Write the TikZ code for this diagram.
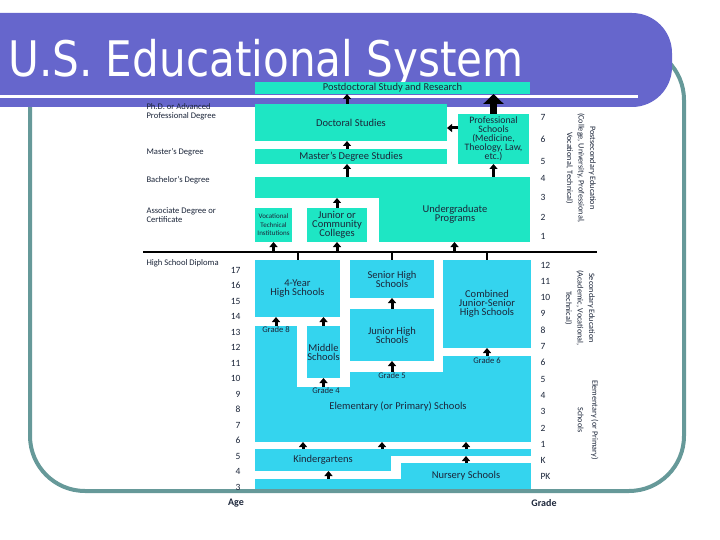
\documentclass[tikz,border=0pt]{standalone}
\usepackage{fontspec}
\setmainfont{Carlito}
\newfontfamily\titlefont[FakeStretch=0.86]{DejaVu Sans}
\usetikzlibrary{arrows.meta}

\definecolor{titlebar}{RGB}{102,102,204}
\definecolor{framegray}{RGB}{102,153,153}
\definecolor{tealfill}{RGB}{30,230,196}
\definecolor{bluefill}{RGB}{52,212,238}
\definecolor{inktext}{RGB}{28,38,58}

\newcommand{\tightlines}{\lineskiplimit-20pt\relax}

\tikzset{
    box/.style = {rectangle, inner sep=0pt, outer sep=0pt, align=center, text=inktext, font={\fontsize{10.5}{9}\selectfont\tightlines}},
    tealbox/.style = {box, fill=tealfill},
    bluebox/.style = {box, fill=bluefill},
    uparrow/.style = {line width=3pt, -{Triangle[width=8pt,length=5pt]}},
    bigarrow/.style = {line width=6.5pt, -{Triangle[width=20pt,length=10pt]}},
    hsrule/.style = {line width=2pt, black},
    degree/.style = {anchor=west, align=left, text=inktext, font=\fontsize{8.6}{9}\selectfont},
    agenum/.style = {anchor=east, text=inktext, font=\fontsize{9.5}{10}\selectfont},
    gradenum/.style = {anchor=west, text=inktext, font=\fontsize{9.5}{10}\selectfont},
    gradetag/.style = {text=inktext, font=\fontsize{8.6}{9}\selectfont},
    stage/.style = {rotate=-90, align=center, text=inktext, font=\fontsize{8.2}{11.5}\selectfont},
    titletext/.style = {white, inner sep=0pt, font=\titlefont\fontsize{49}{50}\selectfont}
}

\begin{document}
\begin{tikzpicture}[x=1pt, y=-1pt]
\useasboundingbox (0,0) rectangle (720,540);

% Slide frame and title bar
\draw[framegray, line width=4pt, fill=white, rounded corners=55pt] (30,45) rectangle (684,491);
\fill[titlebar, rounded corners=40pt] (-60,13) rectangle (672,107);
\draw[white, line width=3pt] (0,96.5) -- (638,96.5);
\node[titletext, anchor=base west] (title) at (8,77) {U.S. Educational System};

% Degree labels
\node[degree] (phd) at (143,111.5) {Ph.D. or Advanced\\Professional Degree};
\node[degree] (master) at (143,152) {Master's Degree};
\node[degree] (bachelor) at (143,180) {Bachelor's Degree};
\node[degree] (associate) at (143,215) {Associate Degree or\\Certificate};
\node[degree] (diploma) at (143,263) {High School Diploma};

% Postsecondary boxes
\node[tealbox, minimum width=275, minimum height=12] (postdoc) at (392.5,88) {Postdoctoral Study and Research};
\node[tealbox, minimum width=192, minimum height=37] (doctoral) at (351,122.5) {Doctoral Studies};
\node[tealbox, minimum width=71, minimum height=50, font={\fontsize{9.8}{9}\selectfont\tightlines}] (profschool) at (493.5,139) {Professional\\Schools\\(Medicine,\\Theology, Law,\\etc.)};
\node[tealbox, minimum width=192, minimum height=15] (masters) at (351,156.5) {Master's Degree Studies};
\node[tealbox, minimum width=275, minimum height=21] (ugtop) at (392.5,187.5) {};
\node[tealbox, minimum width=151, minimum height=45] (ugmain) at (454.5,219.5) {};
\node[box] (ugtext) at (455,214) {Undergraduate\\Programs};
\node[tealbox, minimum width=37, minimum height=34, font={\fontsize{7}{8.5}\selectfont\tightlines}] (vocational) at (273.5,225) {Vocational\\Technical\\Institutions};
\node[tealbox, minimum width=60, minimum height=34] (community) at (337,225) {Junior or\\Community\\Colleges};

% Secondary boxes
\node[bluebox, minimum width=85, minimum height=57] (fouryear) at (297.5,288.5) {4-Year\\High Schools};
\node[bluebox, minimum width=84, minimum height=38] (seniorhigh) at (392,279) {Senior High\\Schools};
\node[bluebox, minimum width=88, minimum height=88] (combined) at (487,304) {Combined\\Junior-Senior\\High Schools};
\node[bluebox, minimum width=33, minimum height=52] (middle) at (323.5,352) {Middle\\Schools};
\node[bluebox, minimum width=84, minimum height=52] (juniorhigh) at (392,335) {Junior High\\Schools};

% Elementary and early childhood
\node[bluebox, minimum width=42, minimum height=62] (elemleft) at (276,357) {};
\node[bluebox, minimum width=93, minimum height=16] (elemcentre) at (396.5,380) {};
\node[bluebox, minimum width=88, minimum height=32] (elemright) at (487,372) {};
\node[bluebox, minimum width=276, minimum height=55] (elem) at (393,414.5) {};
\node[box] (elemtext) at (398,407) {Elementary (or Primary) Schools};
\node[bluebox, minimum width=136, minimum height=22] (kinder) at (323,460) {Kindergartens};
\node[bluebox, minimum width=141, minimum height=7] (kstrip) at (460.5,452.5) {};
\node[bluebox, minimum width=130, minimum height=26] (nursery) at (466,476) {Nursery Schools};
\node[bluebox, minimum width=147, minimum height=10] (nbase) at (328.5,484) {};

% Grade tags
\node[gradetag] (tag8) at (276,330) {Grade 8};
\node[gradetag] (tag4) at (326,391) {Grade 4};
\node[gradetag] (tag5) at (392,376) {Grade 5};
\node[gradetag] (tag6) at (487,361) {Grade 6};

% High school diploma line
\coordinate (hsleft) at (143,252);
\coordinate (hsright) at (597,252);
\draw[hsrule] (hsleft) -- (hsright);
\foreach \b in {fouryear,seniorhigh,combined}
    \draw[hsrule] (\b.north |- hsleft) -- (\b.north);
\foreach \b in {vocational,community,ugmain}
    \draw[uparrow] (\b.south |- hsleft) -- (\b.south);

% Arrows, postsecondary
\coordinate (gradcol) at (347,0);
\coordinate (profrow) at (0,128);
\draw[uparrow] (doctoral.north -| gradcol) -- (postdoc.south -| gradcol);
\draw[uparrow] (masters.north -| gradcol) -- (doctoral.south -| gradcol);
\draw[uparrow] (ugtop.north -| gradcol) -- (masters.south -| gradcol);
\draw[uparrow] (community.north) -- (ugtop.south -| community.north);
\draw[uparrow] (profschool.west |- profrow) -- (doctoral.east |- profrow);
\draw[bigarrow] (profschool.north) -- (postdoc.south -| profschool.north);
\draw[uparrow] (ugtop.north -| profschool.south) -- (profschool.south);

% Arrows, secondary and elementary
\draw[uparrow] (elemleft.north) -- (fouryear.south -| elemleft.north);
\draw[uparrow] (middle.north) -- (fouryear.south -| middle.north);
\draw[uparrow] (juniorhigh.north) -- (seniorhigh.south);
\draw[uparrow] (elemcentre.north -| juniorhigh.south) -- (juniorhigh.south);
\draw[uparrow] (elem.north -| middle.south) -- (middle.south);
\draw[uparrow] (elemright.north) -- (combined.south);
\coordinate (kcol1) at (303,0);
\coordinate (kcol2) at (382,0);
\coordinate (kcol3) at (466,0);
\foreach \c in {kcol1,kcol2}
    \draw[uparrow] (kinder.north -| \c) -- (elem.south -| \c);
\draw[uparrow] (kstrip.north -| kcol3) -- (elem.south -| kcol3);
\draw[uparrow] (nursery.north) -- (kstrip.south -| nursery.north);
\draw[uparrow] (nbase.north) -- (kinder.south -| nbase.north);

% Age and grade scales
\foreach \a [count=\i from 0] in {17,16,...,3}
    \node[agenum] (age\a) at (244,{270+15.5*\i}) {\a};
\foreach \g/\y in {7/117,6/139,5/161,4/178,3/197,2/217,1/236}
    \node[gradenum] (pgrade\g) at (537,\y) {\g};
\foreach \g [count=\i from 0] in {12,11,10,9,8,7,6,5,4,3,2,1,K,PK}
    \node[gradenum] (grade\g) at (537,{265+16.3*\i}) {\g};
\node[agenum, anchor=center, font=\bfseries\fontsize{10}{10}\selectfont] (agehead) at (236,503) {Age};
\node[gradenum, anchor=center, font=\bfseries\fontsize{10}{10}\selectfont] (gradehead) at (544,503) {Grade};

% Stage labels
\node[stage] (postsec) at (581,168) {Postsecondary Education\\(College, University, Professional,\\Vocational, Technical)};
\node[stage] (secondary) at (580,308) {Secondary Education\\(Academic, Vocational,\\Technical)};
\node[stage, font=\fontsize{8.2}{14.5}\selectfont] (elementary) at (588,420) {Elementary (or Primary)\\Schools};
\end{tikzpicture}
\end{document}
